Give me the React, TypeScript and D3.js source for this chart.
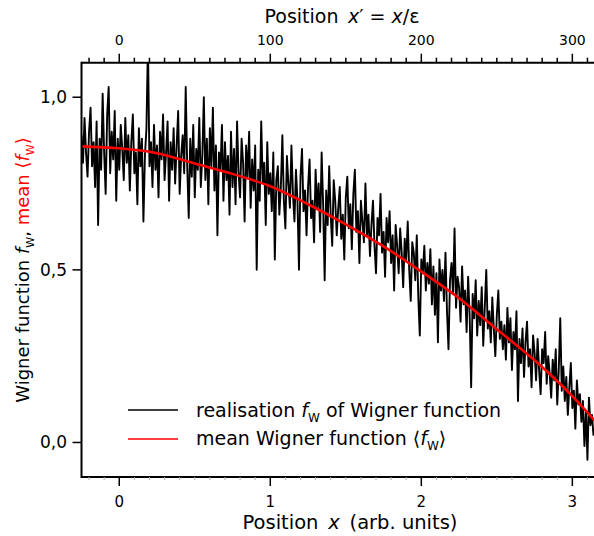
import React from 'react';
import * as d3 from 'd3';

const W = 594;
const H = 536;

// realisation f_W sampled at x' = -25, -24, ..., 314
const xPrimeStart = -25;
const realisation = [
  0.89, 0.81, 0.94, 0.84, 0.77, 0.90, 0.97, 0.80, 0.87, 0.74,
  0.93, 0.63, 0.88, 0.79, 1.01, 0.84, 0.72, 0.95, 1.03, 0.78,
  0.90, 0.82, 0.96, 0.70, 0.88, 0.79, 0.92, 0.85, 0.76, 0.94,
  0.81, 0.89, 0.73, 0.87, 0.95, 0.78, 0.84, 0.69, 0.91, 0.80,
  0.88, 0.64, 0.83, 0.91, 1.16, 0.80, 0.87, 0.74, 0.92, 0.79,
  0.86, 0.71, 0.90, 0.82, 0.95, 0.76, 0.84, 0.93, 0.70, 0.87,
  0.79, 0.91, 0.75, 0.86, 0.96, 0.72, 0.83, 0.89, 0.78, 1.03,
  0.80, 0.65, 0.88, 0.77, 0.92, 0.71, 0.85, 0.79, 0.94, 0.74,
  0.83, 1.00, 0.76, 0.88, 0.69, 0.91, 0.80, 0.97, 0.73, 0.86,
  0.60, 0.84, 0.79, 0.92, 0.70, 0.87, 0.76, 0.83, 0.66, 0.90,
  0.74, 0.85, 0.69, 0.93, 0.78, 0.71, 0.88, 0.81, 0.64, 0.86,
  0.77, 0.90, 0.68, 0.82, 0.73, 0.86, 0.50, 0.79, 0.70, 0.93,
  0.75, 0.81, 0.63, 0.87, 0.72, 0.78, 0.67, 0.84, 0.53, 0.76,
  0.80, 0.66, 0.74, 0.89, 0.70, 0.62, 0.83, 0.75, 0.68, 0.86,
  0.72, 0.64, 0.79, 0.70, 0.50, 0.77, 0.85, 0.67, 0.73, 0.60,
  0.74, 0.82, 0.65, 0.70, 0.58, 0.79, 0.68, 0.75, 0.61, 0.84,
  0.69, 0.47, 0.73, 0.63, 0.80, 0.66, 0.57, 0.76, 0.70, 0.60,
  0.68, 0.74, 0.59, 0.66, 0.53, 0.71, 0.77, 0.62, 0.69, 0.56,
  0.72, 0.79, 0.61, 0.67, 0.52, 0.70, 0.64, 0.58, 0.75, 0.60,
  0.66, 0.54, 0.63, 0.70, 0.57, 0.49, 0.65, 0.60, 0.72, 0.55,
  0.61, 0.48, 0.65, 0.58, 0.67, 0.52, 0.60, 0.44, 0.63, 0.57,
  0.49, 0.62, 0.55, 0.45, 0.59, 0.53, 0.64, 0.50, 0.41, 0.58,
  0.55, 0.47, 0.60, 0.42, 0.31, 0.53, 0.49, 0.57, 0.44, 0.52,
  0.46, 0.56, 0.40, 0.51, 0.37, 0.49, 0.29, 0.53, 0.44, 0.50,
  0.41, 0.55, 0.38, 0.27, 0.47, 0.52, 0.43, 0.62, 0.39, 0.48,
  0.45, 0.35, 0.51, 0.40, 0.44, 0.32, 0.48, 0.37, 0.16, 0.43,
  0.36, 0.47, 0.31, 0.41, 0.34, 0.45, 0.28, 0.39, 0.50, 0.33,
  0.38, 0.29, 0.42, 0.33, 0.25, 0.37, 0.44, 0.30, 0.35, 0.27,
  0.34, 0.24, 0.39, 0.29, 0.36, 0.21, 0.32, 0.27, 0.38, 0.12,
  0.30, 0.23, 0.33, 0.19, 0.29, 0.35, 0.22, 0.27, 0.16, 0.31,
  0.26, 0.18, 0.30, 0.21, 0.14, 0.27, 0.23, 0.32, 0.17, 0.25,
  0.20, 0.13, 0.24, 0.18, 0.27, 0.11, 0.21, 0.36, 0.15, 0.22,
  0.12, 0.19, 0.08, 0.16, 0.23, 0.10, 0.15, 0.04, 0.18, 0.11,
  0.14, 0.06, 0.12, -0.01, 0.09, -0.05, 0.13, 0.05, 0.08, 0.02,
];

// mean Wigner function <f_W>
const meanX = [-0.27, 0, 0.25, 0.5, 0.75, 1.0, 1.25, 1.5, 1.75, 2.0, 2.25, 2.5, 2.75, 3.0, 3.18];
const meanY = [0.858, 0.852, 0.838, 0.808, 0.778, 0.742, 0.69, 0.632, 0.568, 0.495, 0.418, 0.328, 0.238, 0.134, 0.047];

const bottomTicks = [0, 1, 2, 3];
const topTicks = [0, 100, 200, 300];
const yTicks = [0, 0.5, 1.0];
const yTickLabels = ['0,0', '0,5', '1,0'];

const FONT = "'DejaVu Sans', Verdana, sans-serif";

export default function App() {
  const x = d3.scaleLinear().domain([-0.25, 3.15]).range([81.5, 595]);
  const xTop = d3.scaleLinear().domain([-25, 315]).range([81.5, 595]);
  const y = d3.scaleLinear().domain([-0.1, 1.1]).range([477, 62.7]);

  const realLine = d3
    .line<number>()
    .x((_, i) => xTop(xPrimeStart + i))
    .y((d) => y(d));
  const meanLine = d3
    .line<number>()
    .x((_, i) => x(meanX[i]))
    .y((d) => y(d))
    .curve(d3.curveMonotoneX);

  const [x0, x1] = x.range();
  const [yb, yt] = y.range();

  const topMinor = d3.range(-20, 320, 10).filter((v) => v % 100 !== 0);
  const bottomMinor = d3.range(-2, 32, 1).map((v) => v / 10).filter((v) => Math.abs(v - Math.round(v)) > 1e-6);

  return (
    <svg
      width={W}
      height={H}
      style={{ position: 'absolute', left: 0, top: 0, background: '#fff' }}
      fontFamily={FONT}
    >
      <defs>
        <clipPath id="plotClip">
          <rect x={x0} y={yt} width={x1 - x0} height={yb - yt} />
        </clipPath>
      </defs>

      {/* data */}
      <g clipPath="url(#plotClip)">
        <path d={realLine(realisation) || ''} fill="none" stroke="#000" strokeWidth={1.9} strokeLinejoin="round" />
        <path d={meanLine(meanY) || ''} fill="none" stroke="#ff0000" strokeWidth={2.6} />
      </g>

      {/* frame */}
      <line x1={x0} x2={x1} y1={yb} y2={yb} stroke="#000" strokeWidth={2} />
      <line x1={x0} x2={x1} y1={yt} y2={yt} stroke="#000" strokeWidth={2} />
      <line x1={x0} x2={x0} y1={yt - 1} y2={yb + 1} stroke="#000" strokeWidth={2} />

      {/* top axis */}
      {topMinor.map((v) => (
        <line key={'tm' + v} x1={xTop(v)} x2={xTop(v)} y1={yt} y2={yt - 5} stroke="#000" strokeWidth={1.5} />
      ))}
      {topTicks.map((v) => (
        <g key={'tt' + v}>
          <line x1={xTop(v)} x2={xTop(v)} y1={yt} y2={yt - 9} stroke="#000" strokeWidth={1.5} />
          <text x={xTop(v)} y={45} textAnchor="middle" fontSize={14}>
            {v}
          </text>
        </g>
      ))}
      <text x={342} y={23} textAnchor="middle" fontSize={19}>
        Position{'\u2002'}
        <tspan fontStyle="italic">x</tspan>
        {'\u2032 = '}
        <tspan fontStyle="italic">x</tspan>
        {'/\u03b5'}
      </text>

      {/* bottom axis */}
      {bottomMinor.map((v) => (
        <line key={'bm' + v} x1={x(v)} x2={x(v)} y1={yb} y2={yb + 3} stroke="#aaa" strokeWidth={1} />
      ))}
      {bottomTicks.map((v) => (
        <g key={'bt' + v}>
          <line x1={x(v)} x2={x(v)} y1={yb} y2={yb + 9} stroke="#000" strokeWidth={1.5} />
          <text x={x(v)} y={507} textAnchor="middle" fontSize={15}>
            {v}
          </text>
        </g>
      ))}
      <text x={350} y={529} textAnchor="middle" fontSize={19.5}>
        Position{'\u2002'}
        <tspan fontStyle="italic">x</tspan>
        {'\u2002(arb. units)'}
      </text>

      {/* left axis */}
      {yTicks.map((v, i) => (
        <g key={'yt' + v}>
          <line x1={x0} x2={x0 - 9} y1={y(v)} y2={y(v)} stroke="#000" strokeWidth={1.5} />
          <text x={67} y={y(v) + 6} textAnchor="end" fontSize={17}>
            {yTickLabels[i]}
          </text>
        </g>
      ))}
      <text transform="translate(29,270) rotate(-90)" textAnchor="middle" fontSize={18}>
        {'Wigner function '}
        <tspan fontStyle="italic">f</tspan>
        <tspan fontSize={11} dy={5}>W</tspan>
        <tspan dy={-5}>{', '}</tspan>
        <tspan fill="#ff0000">{'mean \u27e8'}</tspan>
        <tspan fill="#ff0000" fontStyle="italic">f</tspan>
        <tspan fill="#ff0000" fontSize={11} dy={5}>W</tspan>
        <tspan fill="#ff0000" dy={-5}>{'\u27e9'}</tspan>
      </text>

      {/* legend */}
      <line x1={128} x2={178} y1={410} y2={410} stroke="#000" strokeWidth={1.4} />
      <text x={196} y={417} fontSize={19}>
        {'realisation '}
        <tspan fontStyle="italic">f</tspan>
        <tspan fontSize={12} dy={5}>W</tspan>
        <tspan dy={-5}>{' of Wigner function'}</tspan>
      </text>
      <line x1={128} x2={178} y1={439} y2={439} stroke="#ff0000" strokeWidth={1.6} />
      <text x={196} y={445} fontSize={19}>
        {'mean Wigner function \u27e8'}
        <tspan fontStyle="italic">f</tspan>
        <tspan fontSize={12} dy={5}>W</tspan>
        <tspan dy={-5}>{'\u27e9'}</tspan>
      </text>
    </svg>
  );
}
